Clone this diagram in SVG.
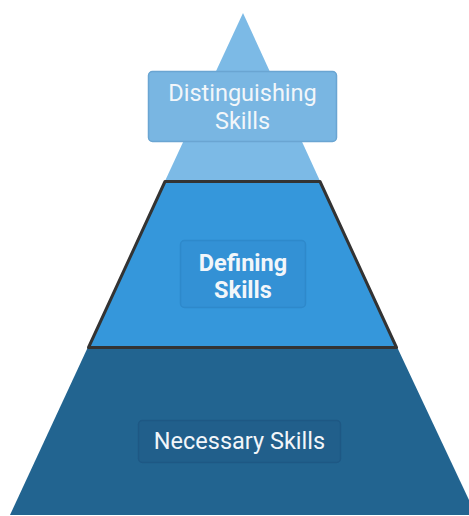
<svg xmlns="http://www.w3.org/2000/svg" width="469" height="516" viewBox="0 0 469 516">
<style>
.lbl{font-family:Roboto,"Liberation Sans",sans-serif;fill:#f2f6fa;text-anchor:middle;font-size:23.5px}
.box{stroke-width:1.5}
</style>
<rect width="469" height="516" fill="#ffffff"/>
<g id="tier-necessary">
<polygon points="87.5,348 397.5,348 476,515 10,515" fill="#226490"/>
<rect class="box" x="138.5" y="420.5" width="202" height="42" rx="4" fill="#215f8b" stroke="#1e5884"/>
<text class="lbl" x="239.5" y="449">Necessary Skills</text>
</g>
<g id="tier-distinguishing">
<polygon points="243,13 320,181 165,181" fill="#7cbae6"/>
<rect class="box" x="148.5" y="71.5" width="188" height="70" rx="4" fill="#79b6e2" stroke="#6aa5d2"/>
<text class="lbl" x="242.5" y="101">Distinguishing</text>
<text class="lbl" x="242.5" y="129">Skills</text>
</g>
<g id="tier-defining">
<polygon points="165,181.5 320,181.5 396.5,347.5 88.5,347.5" fill="#3597db" stroke="#333333" stroke-width="3" stroke-linejoin="round"/>
<rect class="box" x="180.5" y="240.5" width="125" height="67" rx="4" fill="#3391d5" stroke="#2e89cb"/>
<text class="lbl" x="243" y="271" font-weight="bold">Defining</text>
<text class="lbl" x="243" y="298" font-weight="bold">Skills</text>
</g>
<g id="connectors"></g>
</svg>
